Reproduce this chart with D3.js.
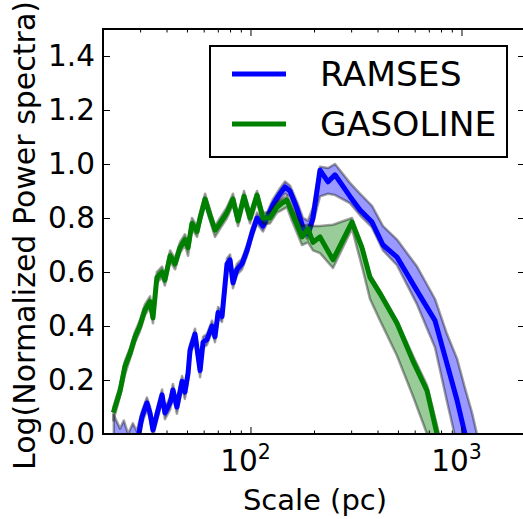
<!DOCTYPE html>
<html>
<head>
<meta charset="utf-8">
<script src="https://cdn.jsdelivr.net/npm/d3@7"></script>
<style>
  html, body { margin: 0; padding: 0; background: #fff; }
  svg { display: block; font-family: "DejaVu Sans", sans-serif; }
</style>
</head>
<body>
<script>
// ---------------- data ----------------
const seriesNames = ["RAMSES", "GASOLINE"];
const seriesColors = ["#0000ff", "#008000"];

// RAMSES: scale (pc), log power, band low, band high
const ramsesX = [22.5, 24.1, 25.1, 26.3, 27.7, 28.9, 30.6, 32.3, 33.4, 34.5, 36.5, 38.1, 39.3, 41.6, 42.9, 44.8, 47.4, 48.9, 50.6, 51.7, 54.6, 57.7, 59.6, 62.2, 65.7, 67.9, 70.2, 73.3, 77.4, 80.0, 82.6, 86.3, 91.2, 96.3, 101.7, 107.4, 114.6, 119.8, 127.9, 138.0, 145.8, 153.9, 166.1, 177.4, 187.3, 197.8, 213.5, 233.1, 251.5, 296.2, 330.4, 376.6, 424.6, 494.8, 615.6, 749.1, 853.8, 952.1, 1039, 1121, 1250];
const ramsesY = [-0.05, -0.04, -0.02, -0.05, -0.01, -0.04, 0.063, 0.115, 0.078, 0.015, 0.089, 0.145, 0.078, 0.115, 0.163, 0.10, 0.195, 0.155, 0.225, 0.31, 0.37, 0.235, 0.34, 0.35, 0.40, 0.36, 0.45, 0.435, 0.63, 0.645, 0.56, 0.61, 0.63, 0.68, 0.745, 0.80, 0.77, 0.80, 0.85, 0.89, 0.915, 0.90, 0.835, 0.765, 0.74, 0.80, 0.977, 0.934, 0.96, 0.88, 0.83, 0.785, 0.70, 0.655, 0.53, 0.42, 0.26, 0.126, 0.0, -0.12, -0.30];
const ramsesLo = [-0.15, -0.12, -0.10, -0.12, -0.08, -0.10, 0.04, 0.09, 0.055, -0.01, 0.065, 0.12, 0.055, 0.09, 0.14, 0.075, 0.17, 0.13, 0.20, 0.29, 0.35, 0.21, 0.32, 0.33, 0.38, 0.34, 0.43, 0.415, 0.61, 0.625, 0.54, 0.59, 0.61, 0.66, 0.725, 0.78, 0.75, 0.78, 0.83, 0.87, 0.89, 0.88, 0.81, 0.74, 0.72, 0.78, 0.88, 0.89, 0.885, 0.855, 0.81, 0.765, 0.68, 0.625, 0.48, 0.32, 0.12, -0.04, -0.17, -0.30, -0.50];
const ramsesHi = [0.07, 0.02, 0.05, 0.0, 0.04, 0.01, 0.085, 0.135, 0.10, 0.035, 0.11, 0.165, 0.10, 0.135, 0.185, 0.12, 0.215, 0.175, 0.245, 0.33, 0.39, 0.255, 0.36, 0.37, 0.42, 0.38, 0.47, 0.455, 0.65, 0.665, 0.58, 0.63, 0.65, 0.70, 0.765, 0.82, 0.79, 0.82, 0.87, 0.91, 0.935, 0.92, 0.86, 0.80, 0.79, 0.84, 0.99, 0.985, 1.0, 0.93, 0.89, 0.845, 0.77, 0.72, 0.62, 0.50, 0.37, 0.28, 0.17, 0.08, -0.08];

// GASOLINE
const gasolineX = [22.4, 24.1, 25.4, 26.9, 28.4, 29.9, 31.6, 33.4, 34.5, 36.0, 38.1, 39.3, 41.6, 43.9, 46.3, 48.9, 50.6, 52.8, 55.8, 57.7, 60.9, 64.3, 67.9, 71.7, 77.4, 82.6, 87.3, 93.2, 99.5, 107.4, 114.6, 123.7, 133.5, 141.1, 148.9, 157.3, 175.4, 187.3, 197.8, 213.5, 246.0, 302.7, 337.7, 368.5, 411.2, 494.8, 589.2, 686.6, 765.6, 850];
const gasolineY = [0.08, 0.16, 0.25, 0.30, 0.36, 0.40, 0.46, 0.49, 0.43, 0.58, 0.60, 0.57, 0.66, 0.63, 0.69, 0.72, 0.69, 0.78, 0.75, 0.80, 0.87, 0.81, 0.755, 0.78, 0.82, 0.87, 0.79, 0.88, 0.80, 0.885, 0.80, 0.80, 0.84, 0.855, 0.866, 0.82, 0.73, 0.76, 0.71, 0.73, 0.645, 0.785, 0.69, 0.58, 0.52, 0.41, 0.27, 0.16, 0.0, -0.15];
const gasolineLo = [0.05, 0.14, 0.22, 0.28, 0.34, 0.38, 0.44, 0.47, 0.41, 0.56, 0.58, 0.55, 0.64, 0.61, 0.67, 0.70, 0.66, 0.76, 0.73, 0.78, 0.85, 0.79, 0.73, 0.76, 0.80, 0.85, 0.77, 0.86, 0.78, 0.86, 0.78, 0.78, 0.82, 0.83, 0.84, 0.79, 0.70, 0.71, 0.68, 0.67, 0.615, 0.76, 0.62, 0.50, 0.42, 0.29, 0.14, 0.0, -0.18, -0.35];
const gasolineHi = [0.10, 0.18, 0.27, 0.32, 0.38, 0.42, 0.48, 0.51, 0.45, 0.60, 0.62, 0.59, 0.68, 0.65, 0.71, 0.74, 0.71, 0.80, 0.77, 0.82, 0.89, 0.83, 0.77, 0.80, 0.84, 0.89, 0.81, 0.90, 0.82, 0.90, 0.82, 0.82, 0.86, 0.87, 0.88, 0.84, 0.77, 0.775, 0.77, 0.77, 0.775, 0.80, 0.70, 0.59, 0.53, 0.42, 0.29, 0.18, 0.03, -0.12];

const yTicks = [0.0, 0.2, 0.4, 0.6, 0.8, 1.0, 1.2, 1.4];
const xMajorTicks = [100, 1000];
const xMinorTicks = [20, 30, 40, 50, 60, 70, 80, 90, 200, 300, 400, 500, 600, 700, 800, 900, 2000];
const xLabel = "Scale (pc)";
const yLabel = "Log(Normalized Power spectra)";

// ---------------- chart ----------------
const W = 523, H = 519;
const L = 103, R = 525, T = 29, B = 434;

const svg = d3.select("body").append("svg").attr("width", W).attr("height", H);

const x = d3.scaleLog().domain([20, 2000]).range([L, R]);
const y = d3.scaleLinear().domain([0, 1.5]).range([B, T]);

svg.append("defs").append("clipPath").attr("id", "clip")
  .append("rect").attr("x", L).attr("y", T).attr("width", R - L).attr("height", B - T);

const plot = svg.append("g").attr("clip-path", "url(#clip)");

const series = [
  { xs: ramsesX, ys: ramsesY, lo: ramsesLo, hi: ramsesHi, color: seriesColors[0] },
  { xs: gasolineX, ys: gasolineY, lo: gasolineLo, hi: gasolineHi, color: seriesColors[1] }
];

series.forEach(s => {
  const pts = s.xs.map((xv, i) => ({ x: xv, y: s.ys[i], lo: s.lo[i], hi: s.hi[i] }));
  const area = d3.area().x(d => x(d.x)).y0(d => y(d.lo)).y1(d => y(d.hi));
  plot.append("path").datum(pts).attr("d", area)
    .attr("fill", s.color).attr("fill-opacity", 0.4)
    .attr("stroke", "#000").attr("stroke-opacity", 0.37).attr("stroke-width", 2.5)
    .attr("stroke-linejoin", "round");
  const line = d3.line().x(d => x(d.x)).y(d => y(d.y));
  plot.append("path").datum(pts).attr("d", line)
    .attr("fill", "none").attr("stroke", s.color).attr("stroke-width", 5)
    .attr("stroke-linejoin", "round");
});

// ---- axes ----
const tickFont = 29.5;
const bMaj = svg.append("g").attr("transform", `translate(0,${B})`)
  .call(d3.axisBottom(x).tickValues(xMajorTicks).tickSize(-7).tickFormat(""));
const bMin = svg.append("g").attr("transform", `translate(0,${B})`)
  .call(d3.axisBottom(x).tickValues(xMinorTicks).tickSize(-3.5).tickFormat(""));
const tMaj = svg.append("g").attr("transform", `translate(0,${T})`)
  .call(d3.axisTop(x).tickValues(xMajorTicks).tickSize(-7).tickFormat(""));
const tMin = svg.append("g").attr("transform", `translate(0,${T})`)
  .call(d3.axisTop(x).tickValues(xMinorTicks).tickSize(-3.5).tickFormat(""));
const lAx = svg.append("g").attr("transform", `translate(${L},0)`)
  .call(d3.axisLeft(y).tickValues(yTicks).tickSize(-7).tickPadding(8).tickFormat(d3.format(".1f")));
const rAx = svg.append("g").attr("transform", `translate(${R},0)`)
  .call(d3.axisRight(y).tickValues(yTicks).tickSize(-7).tickFormat(""));

[bMaj, bMin, tMaj, tMin, lAx, rAx].forEach(g => {
  g.select(".domain").remove();
  g.selectAll(".tick line").attr("stroke", "#000").attr("stroke-width", 1);
});
lAx.selectAll(".tick text").attr("font-size", tickFont).attr("fill", "#000")
  .attr("font-family", "DejaVu Sans");

xMajorTicks.forEach(v => {
  const t = svg.append("text")
    .attr("x", x(v) - 5).attr("y", 471)
    .attr("text-anchor", "middle")
    .attr("font-size", tickFont).attr("fill", "#000");
  t.append("tspan").text("10");
  t.append("tspan").attr("font-size", 20.5).attr("dy", -12).text(String(Math.round(Math.log10(v))));
});

svg.append("rect").attr("x", L).attr("y", T).attr("width", R - L).attr("height", B - T)
  .attr("fill", "none").attr("stroke", "#000").attr("stroke-width", 2);

svg.append("text").attr("x", (L + 523) / 2 + 2).attr("y", 510)
  .attr("text-anchor", "middle").attr("font-size", 29).attr("fill", "#000").text(xLabel);
svg.append("text").attr("transform", `translate(35,${(T + B) / 2 + 4}) rotate(-90)`)
  .attr("text-anchor", "middle").attr("font-size", 30).attr("fill", "#000").text(yLabel);

const lg = svg.append("g");
lg.append("rect").attr("x", 210).attr("y", 46).attr("width", 297).attr("height", 111)
  .attr("fill", "#fff").attr("stroke", "#000").attr("stroke-width", 2);
seriesNames.forEach((name, i) => {
  const cy = 74 + i * 50;
  lg.append("line").attr("x1", 232).attr("x2", 286).attr("y1", cy).attr("y2", cy)
    .attr("stroke", seriesColors[i]).attr("stroke-width", 5);
  lg.append("text").attr("x", 320).attr("y", cy + 11.5)
    .attr("font-size", 34.5).attr("fill", "#000").text(name);
});
</script>
</body>
</html>
